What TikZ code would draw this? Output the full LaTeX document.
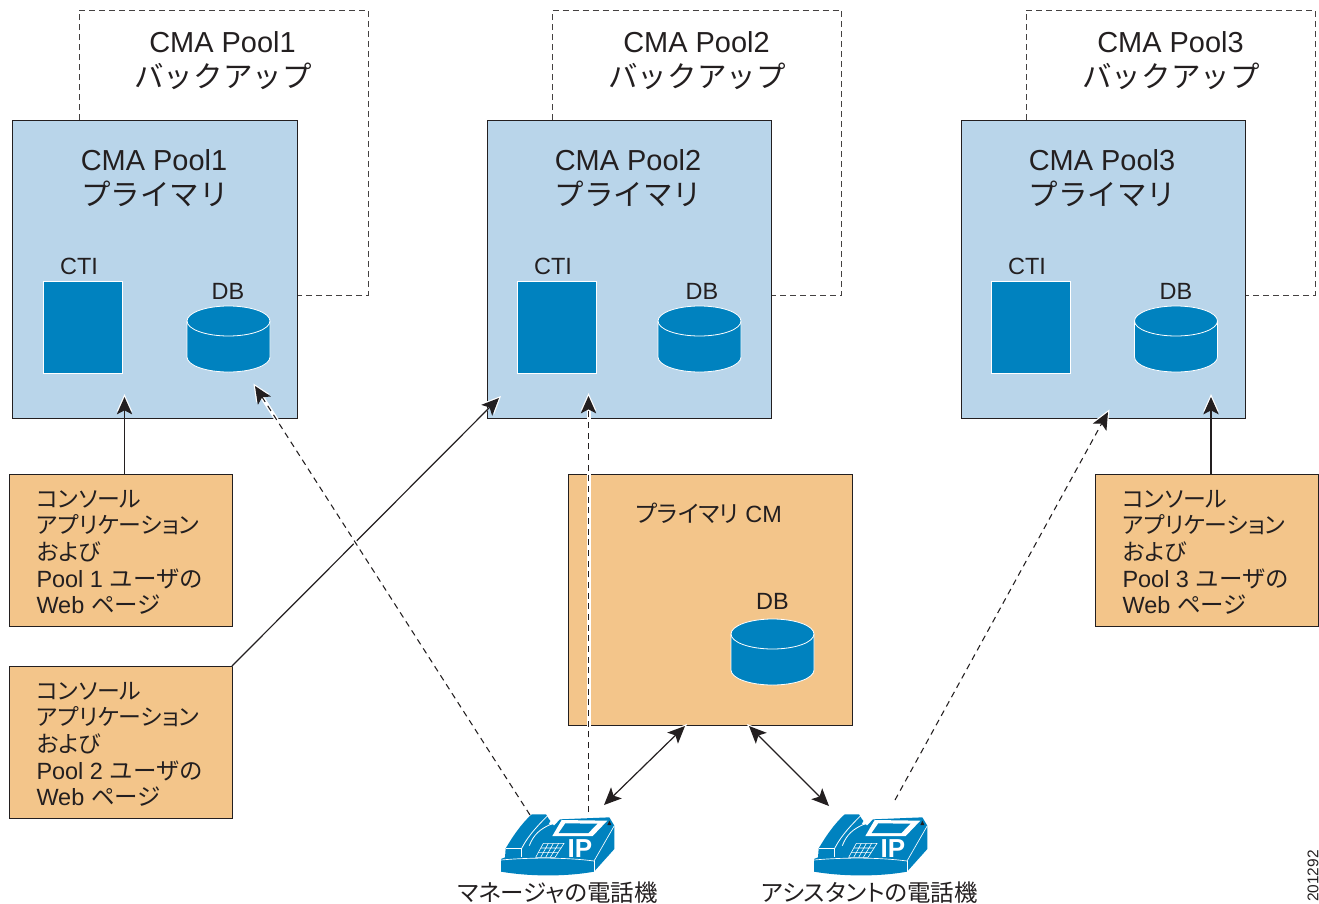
\documentclass[tikz,border=0pt]{standalone}
\usepackage{fontspec}
\setmainfont{Liberation Sans}
\newfontfamily\jpf[Scale=1.02]{Noto Sans CJK JP}
\newfontfamily\jpn{Noto Sans CJK JP}
\newfontfamily\jpp[RawFeature=+palt]{Noto Sans CJK JP}
\newfontfamily\jpq[RawFeature=+palt,Scale=0.975]{Noto Sans CJK JP}
\usetikzlibrary{arrows.meta}
\definecolor{inkc}{HTML}{231F20}
\definecolor{paleblue}{HTML}{B9D5EA}
\definecolor{deepblue}{HTML}{0082BF}
\definecolor{peach}{HTML}{F3C58A}
\newcommand{\J}[1]{{\jpf #1}}
\newcommand{\K}[1]{{\jpp #1}}
\newcommand{\Q}[1]{{\jpq #1}}
\newcommand{\N}[1]{{\jpn #1}}
\newcommand{\bigsize}{\fontsize{21.7pt}{25.5pt}\selectfont}
\newcommand{\midsize}{\fontsize{17.6pt}{20pt}\selectfont}
\tikzset{
  x=0.75pt,y=-0.75pt,
  every node/.style={text=inkc,inner sep=0pt,outer sep=0pt},
  bigtext/.style={font=\bigsize,align=center,anchor=center},
  midtext/.style={font=\midsize,anchor=center},
  webtext/.style={font=\midsize,align=left,anchor=north west},
  backupbox/.style={draw=inkc!85,line width=0.65pt,dash pattern=on 4.5pt off 3pt},
  primarybox/.style={draw=inkc,fill=paleblue,line width=0.7pt,rectangle,anchor=north west},
  orangebox/.style={draw=inkc,fill=peach,line width=0.7pt,rectangle,anchor=north west},
  ctibox/.style={draw=white,fill=deepblue,line width=0.6pt,rectangle,anchor=north west},
  tipmain/.tip={Stealth[length=13pt,width=11.5pt,inset=3pt]},
  tiphalo/.tip={Stealth[length=13pt,width=11.5pt,inset=3pt,line width=2pt]},
  solidarrow/.style={draw=inkc,line width=0.9pt,
    preaction={draw=white,line width=0.9pt,-{tiphalo},shorten >=-2.2pt},-{tipmain}},
  dasharrow/.style={draw=inkc,line width=0.8pt,dash pattern=on 4.5pt off 3.5pt,
    preaction={draw=white,solid,line width=3pt,-{tiphalo},shorten >=-2.2pt},-{tipmain}},
  bothsolid/.style={draw=inkc,line width=0.9pt,
    preaction={draw=white,line width=0.9pt,{tiphalo}-{tiphalo},shorten >=-2.2pt,shorten <=-2.2pt},{tipmain}-{tipmain}},
  pics/dbcyl/.style={code={
    \fill[deepblue] (0,15) arc[start angle=180,end angle=360,x radius=41.5,y radius=15]
      -- (83,51) arc[start angle=0,end angle=180,x radius=41.5,y radius=15] -- cycle;
    \draw[white,line width=0.6pt] (0,15) arc[start angle=180,end angle=-180,x radius=41.5,y radius=15];
    \draw[white,line width=0.6pt] (0,15) -- (0,51) arc[start angle=180,end angle=0,x radius=41.5,y radius=15] -- (83,15);
  }},
  pics/ipphone/.style={code={
    \begin{scope}[x=0.25pt,y=-0.25pt]
    % body
    \fill[deepblue] (33,237) -- (33,275) .. controls (120,290) and (230,290) .. (312,275)
      -- (373,207) -- (373,137) -- (358,112) -- (210,118) -- (192,137) -- (176,116)
      -- (168,103) -- (125,103) .. controls (90,135) and (65,175) .. (47,205) -- (45,232) -- cycle;
    % top/front edges
    \draw[white,line width=0.5pt] (33,240) .. controls (120,232) and (230,232) .. (312,243) -- (373,137);
    \draw[white,line width=0.5pt] (312,243) -- (312,275);
    % handset
    \draw[white,line width=0.6pt] (95,205) .. controls (115,165) and (150,130) .. (172,108);
    \draw[white,line width=0.6pt] (47,205) -- (95,205) -- (95,232);
    \draw[white,line width=0.6pt] (118,197) .. controls (130,165) and (150,145) .. (190,130);
    % notches
    \fill[white] (176,133) -- (185,117) -- (192,133) -- cycle;
    \fill[inkc] (352,135) -- (358,122) -- (364,135) -- cycle;
    % screen
    \fill[white] (187,168) -- (215,120) -- (352,122) -- (308,168) -- cycle;
    \fill[deepblue] (206,159) -- (226,130) -- (322,131) -- (295,159) -- cycle;
    % key pad
    \draw[white,line width=0.45pt] (137,232) -- (160,190) -- (222,190) -- (195,232) -- cycle;
    \draw[white,line width=0.45pt] (145,218) -- (205,218) (153,204) -- (214,204)
      (152,232) -- (175,190) (167,232) -- (190,190) (181,232) -- (206,190);
    \end{scope}
  }},
}
\begin{document}
\begin{tikzpicture}
\useasboundingbox (0,0) rectangle (1319,903);

% backup boxes
\foreach \dx in {0,473.5,947}{
  \draw[backupbox] (79+\dx,120) -- (79+\dx,10) -- (368+\dx,10) -- (368+\dx,295) -- (297+\dx,295);
}

% primaries
\node[primarybox,minimum width=285*0.75pt,minimum height=298*0.75pt] (p1) at (12,120) {};
\node[primarybox,minimum width=284*0.75pt,minimum height=298*0.75pt] (p2) at (487,120) {};
\node[primarybox,minimum width=284*0.75pt,minimum height=298*0.75pt] (p3) at (961,120) {};

% orange boxes
\node[orangebox,minimum width=223*0.75pt,minimum height=152*0.75pt] (o1) at (9,474) {};
\node[orangebox,minimum width=223*0.75pt,minimum height=152*0.75pt] (o2) at (9,666) {};
\node[orangebox,minimum width=223*0.75pt,minimum height=152*0.75pt] (o3) at (1095,474) {};
\node[orangebox,minimum width=284*0.75pt,minimum height=251*0.75pt] (cm) at (568,474) {};

% backup titles
\node[bigtext] (b1a) at (222.5,42) {CMA Pool1};
\node[bigtext] (b1b) at (223,76) {\J{バックアップ}};
\node[bigtext] (b2a) at (696.5,42) {CMA Pool2};
\node[bigtext] (b2b) at (697,76) {\J{バックアップ}};
\node[bigtext] (b3a) at (1170.5,42) {CMA Pool3};
\node[bigtext] (b3b) at (1171,76) {\J{バックアップ}};

% primary titles
\node[bigtext] (t1a) at (154,160) {CMA Pool1};
\node[bigtext] (t1b) at (155,194) {\J{プライマリ}};
\node[bigtext] (t2a) at (628,160) {CMA Pool2};
\node[bigtext] (t2b) at (628.5,194) {\J{プライマリ}};
\node[bigtext] (t3a) at (1102,160) {CMA Pool3};
\node[bigtext] (t3b) at (1102.5,194) {\J{プライマリ}};

% CTI
\node[midtext] (c1l) at (79,266) {CTI};
\node[midtext] (c2l) at (553,266) {CTI};
\node[midtext] (c3l) at (1027,266) {CTI};
\node[ctibox,minimum width=79*0.75pt,minimum height=92*0.75pt] (c1) at (43,281) {};
\node[ctibox,minimum width=79*0.75pt,minimum height=92*0.75pt] (c2) at (517,281) {};
\node[ctibox,minimum width=79*0.75pt,minimum height=92*0.75pt] (c3) at (991,281) {};

% DB
\node[midtext] (d1l) at (228,291) {DB};
\node[midtext] (d2l) at (702,291) {DB};
\node[midtext] (d3l) at (1176,291) {DB};
\node[midtext] (d4l) at (772.5,601) {DB};
\pic at (187,306) {dbcyl};
\pic at (658,306) {dbcyl};
\pic at (1134.5,306) {dbcyl};
\pic at (731,619) {dbcyl};

% box labels
\node[webtext] (w1) at (36.5,490) {\Q{コンソール}\\\Q{アプリケーション}\\\Q{および}\\Pool 1 \N{ユーザの}\\Web \K{ページ}};
\node[webtext] (w2) at (36.5,682) {\Q{コンソール}\\\Q{アプリケーション}\\\Q{および}\\Pool 2 \N{ユーザの}\\Web \K{ページ}};
\node[webtext] (w3) at (1122.5,490) {\Q{コンソール}\\\Q{アプリケーション}\\\Q{および}\\Pool 3 \N{ユーザの}\\Web \K{ページ}};
\node[midtext,anchor=west] (cml) at (636,513) {\K{プライマリ} CM};

% phones
\pic at (490,780) {ipphone};
\pic at (803,780) {ipphone};
\node[font=\bfseries\fontsize{19.5pt}{20pt}\selectfont,text=white,anchor=center] (ip1) at (580,848.5) {IP};
\node[font=\bfseries\fontsize{19.5pt}{20pt}\selectfont,text=white,anchor=center] (ip2) at (893,848.5) {IP};

% captions
\node[midtext] (cap1) at (557.5,893) {\K{マネージャの電話機}};
\node[midtext] (cap2) at (869.5,893) {\K{アシスタントの電話機}};
\node[font=\fontsize{11.6pt}{12pt}\selectfont,rotate=90,anchor=center] (num) at (1313,876) {201292};

% connector end points
\coordinate (a1s) at (124.5,474); \coordinate (a1e) at (124.5,397);
\coordinate (a2s) at (232,666);   \coordinate (a2e) at (499,398);
\coordinate (a3s) at (530,815);   \coordinate (a3e) at (255,386);
\coordinate (a4s) at (588.5,812); \coordinate (a4e) at (588.5,396);
\coordinate (a5s) at (895,800);   \coordinate (a5e) at (1108,412);
\coordinate (a6s) at (1211,474);  \coordinate (a6e) at (1211,397);
\coordinate (a7s) at (604,805);   \coordinate (a7e) at (685,726);
\coordinate (a8s) at (749,726);   \coordinate (a8e) at (829,806);

\draw[solidarrow] (a1s) -- (a1e);
\draw[solidarrow] (a6s) -- (a6e);
\draw[solidarrow] (a2s) -- (a2e);
\draw[dasharrow] (a3s) -- (a3e);
\draw[dasharrow] (a4s) -- (a4e);
\draw[dasharrow] (a5s) -- (a5e);
\draw[bothsolid] (a7s) -- (a7e);
\draw[bothsolid] (a8s) -- (a8e);
\end{tikzpicture}
\end{document}
